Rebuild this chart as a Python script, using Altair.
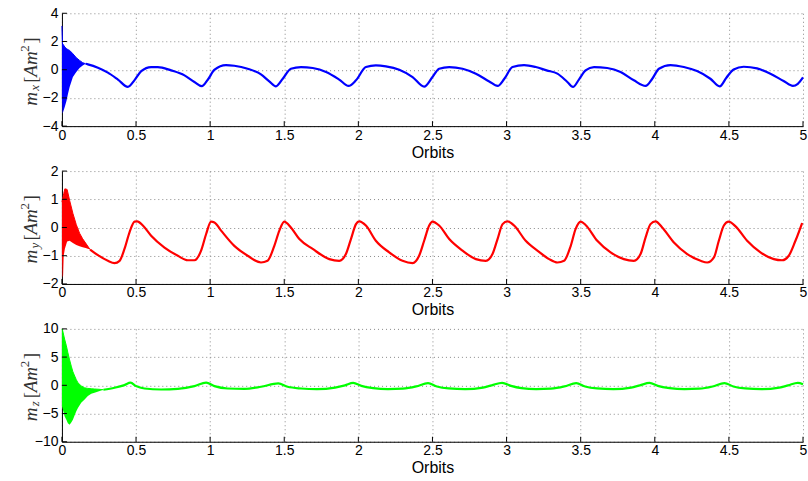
import altair as alt
import pandas as pd

orbit_ticks = [0, 0.5, 1, 1.5, 2, 2.5, 3, 3.5, 4, 4.5, 5]

# ---- m_x (blue) ----
mx_env_t = [0.0, 0.004, 0.008, 0.02, 0.031, 0.041, 0.052, 0.074, 0.097, 0.119, 0.14, 0.16]
mx_env_hi = [3.1, 1.85, 1.8, 1.6, 1.5, 1.42, 1.37, 1.13, 0.85, 0.66, 0.5, 0.42]
mx_env_lo = [-2.0, -3.1, -3.0, -2.6, -2.2, -1.7, -1.22, -0.52, -0.17, 0.12, 0.3, 0.42]
mx_t = [0.16, 0.175, 0.243, 0.31, 0.378, 0.445, 0.49, 0.535, 0.602, 0.647, 0.737, 0.827,
        0.894, 0.944, 0.984, 1.03, 1.107, 1.163, 1.253, 1.343, 1.399, 1.444, 1.49, 1.545,
        1.613, 1.692, 1.782, 1.871, 1.934, 1.984, 2.051, 2.118, 2.186, 2.276, 2.366, 2.444,
        2.5, 2.545, 2.613, 2.703, 2.793, 2.883, 2.94, 2.985, 3.04, 3.118, 3.197, 3.27,
        3.343, 3.41, 3.448, 3.488, 3.533, 3.59, 3.679, 3.769, 3.859, 3.938, 3.983, 4.028,
        4.106, 4.196, 4.285, 4.375, 4.438, 4.483, 4.532, 4.6, 4.69, 4.78, 4.869, 4.932,
        4.965, 5.0]
mx_v = [0.42, 0.38, 0.14, -0.21, -0.70, -1.22, -0.74, -0.10, 0.19, 0.19, -0.05, -0.40,
        -0.87, -1.17, -0.71, 0.0, 0.33, 0.28, 0.07, -0.33, -0.83, -1.18, -0.64, 0.07,
        0.19, 0.12, -0.16, -0.70, -1.15, -0.75, 0.19, 0.31, 0.24, 0.0, -0.52, -1.20,
        -0.52, 0.07, 0.19, 0.07, -0.28, -0.83, -1.15, -0.64, 0.19, 0.33, 0.19, -0.05,
        -0.28, -0.87, -1.22, -0.70, -0.05, 0.19, 0.12, -0.16, -0.75, -1.15, -0.64, 0.07,
        0.33, 0.19, -0.10, -0.64, -1.18, -0.57, 0.02, 0.21, 0.09, -0.28, -0.80, -1.15,
        -1.0, -0.55]

# ---- m_y (red) ----
my_env_t = [0.0, 0.004, 0.008, 0.012, 0.02, 0.035, 0.052, 0.074, 0.097, 0.119, 0.14, 0.16, 0.19]
my_env_hi = [0.9, 1.0, 1.1, 1.2, 1.37, 1.35, 0.96, 0.5, 0.1, -0.2, -0.4, -0.55, -0.78]
my_env_lo = [-1.0, -1.77, -1.7, -1.0, -0.75, -0.5, -0.47, -0.55, -0.62, -0.66, -0.7, -0.73, -0.78]
my_t = [0.19, 0.243, 0.31, 0.355, 0.389, 0.422, 0.456, 0.49, 0.508, 0.546, 0.602, 0.692,
        0.782, 0.849, 0.894, 0.939, 0.973, 1.006, 1.029, 1.074, 1.163, 1.253, 1.343, 1.387,
        1.433, 1.467, 1.5, 1.545, 1.602, 1.692, 1.804, 1.871, 1.916, 1.95, 1.984, 2.006,
        2.051, 2.118, 2.208, 2.298, 2.366, 2.41, 2.444, 2.478, 2.5, 2.545, 2.613, 2.703,
        2.793, 2.86, 2.905, 2.939, 2.973, 3.006, 3.051, 3.129, 3.219, 3.287, 3.343, 3.388,
        3.433, 3.466, 3.5, 3.533, 3.612, 3.702, 3.791, 3.859, 3.904, 3.938, 3.971, 4.005,
        4.05, 4.129, 4.219, 4.309, 4.354, 4.399, 4.432, 4.466, 4.499, 4.545, 4.623, 4.713,
        4.803, 4.859, 4.904, 4.949, 4.994]
my_v = [-0.78, -0.98, -1.18, -1.26, -1.18, -0.76, -0.17, 0.21, 0.22, 0.07, -0.29, -0.71,
        -1.0, -1.16, -1.16, -0.82, -0.23, 0.21, 0.18, -0.11, -0.65, -1.0, -1.24, -1.18,
        -0.65, -0.11, 0.21, 0.0, -0.41, -0.76, -1.12, -1.18, -0.94, -0.41, 0.12, 0.22,
        0.07, -0.47, -0.88, -1.18, -1.26, -1.0, -0.47, 0.07, 0.21, 0.07, -0.41, -0.82,
        -1.12, -1.18, -0.94, -0.41, 0.12, 0.22, 0.07, -0.47, -0.86, -1.12, -1.24, -1.18,
        -0.65, -0.05, 0.21, 0.09, -0.47, -0.88, -1.12, -1.18, -0.94, -0.35, 0.12, 0.22,
        0.0, -0.53, -0.94, -1.18, -1.24, -1.06, -0.47, 0.07, 0.21, 0.04, -0.47, -0.88,
        -1.12, -1.16, -1.0, -0.47, 0.16]

# ---- m_z (green) ----
mz_env_t = [0.0, 0.004, 0.018, 0.03, 0.04, 0.052, 0.063, 0.074, 0.086, 0.097, 0.108, 0.13,
            0.153, 0.175, 0.198, 0.22, 0.25, 0.28]
mz_env_hi = [10.0, 9.8, 8.2, 7.0, 5.8, 4.5, 3.4, 2.4, 1.65, 1.0, 0.45, -0.1,
             -0.44, -0.55, -0.6, -0.65, -0.7, -0.78]
mz_env_lo = [-3.7, -4.0, -5.5, -6.1, -6.7, -7.0, -6.6, -6.1, -5.3, -4.6, -4.0, -3.1,
             -2.5, -1.9, -1.5, -1.3, -1.05, -0.8]
mz_t = [0.28, 0.355, 0.422, 0.463, 0.5, 0.557, 0.669, 0.782, 0.894, 0.973, 1.029, 1.118,
        1.231, 1.343, 1.46, 1.523, 1.613, 1.72, 1.843, 1.91, 1.965, 2.02, 2.1, 2.2, 2.3,
        2.39, 2.47, 2.53, 2.61, 2.72, 2.84, 2.9, 2.97, 3.03, 3.1, 3.2, 3.3, 3.39, 3.47,
        3.53, 3.61, 3.72, 3.84, 3.9, 3.965, 4.02, 4.1, 4.2, 4.3, 4.39, 4.47, 4.53, 4.61,
        4.72, 4.84, 4.9, 4.965, 5.0]
mz_v = [-0.78, -0.44, 0.04, 0.46, -0.14, -0.56, -0.74, -0.62, -0.14, 0.46, -0.14, -0.56,
        -0.62, -0.26, 0.34, -0.26, -0.56, -0.68, -0.40, 0.0, 0.42, -0.10, -0.50, -0.68, -0.60,
        -0.20, 0.38, -0.20, -0.55, -0.68, -0.40, 0.0, 0.45, -0.10, -0.50, -0.68, -0.60,
        -0.20, 0.38, -0.20, -0.55, -0.68, -0.40, 0.0, 0.42, -0.10, -0.50, -0.68, -0.60,
        -0.20, 0.40, -0.20, -0.55, -0.68, -0.40, 0.0, 0.45, 0.2]

W, H = 742, 113
one = pd.DataFrame({"a": [0]})


def ylabel(sub):
    # LaTeX-like "m_sub [Am^2]" written bottom-to-top
    start = H / 2 + 36
    pieces = [
        ("m", 0, -25, 19, "italic"),
        (sub, 15, -22.5, 13, "italic"),
        ("[", 23, -25, 19, "normal"),
        ("Am", 29, -25, 19, "italic"),
        ("2", 54, -33, 13, "normal"),
        ("]", 62, -25, 19, "normal"),
    ]
    layers = []
    for txt, off, xb, size, style in pieces:
        layers.append(
            alt.Chart(one).mark_text(
                text=txt, angle=270, align="left", baseline="alphabetic",
                font="Liberation Serif", fontStyle=style, fontSize=size, color="#333333"
            ).encode(x=alt.value(xb), y=alt.value(start - off))
        )
    return layers


def panel(env_t, env_hi, env_lo, t, v, color, domain, yticks, sub):
    env = pd.DataFrame({"t": env_t, "hi": env_hi, "lo": env_lo})
    line = pd.DataFrame({"t": t, "v": v})
    xs = alt.Scale(domain=[0, 5], nice=False, zero=False)
    ys = alt.Scale(domain=domain, nice=False, zero=False)
    xax = alt.Axis(values=orbit_ticks, format="~g", title="Orbits", grid=True,
                   labelPadding=2, titlePadding=2, labelFlush=False)
    yax = alt.Axis(values=yticks, title=None, grid=True, labelPadding=4)
    area = alt.Chart(env).mark_area(color=color, opacity=1, line={"color": color, "strokeWidth": 1}).encode(
        x=alt.X("t:Q", scale=xs, axis=xax),
        y=alt.Y("hi:Q", scale=ys, axis=yax),
        y2="lo:Q",
    )
    ln = alt.Chart(line).mark_line(color=color, strokeWidth=2.2, interpolate="monotone").encode(
        x=alt.X("t:Q", scale=xs, axis=xax),
        y=alt.Y("v:Q", scale=ys, axis=yax),
    )
    xt = alt.Chart(pd.DataFrame({"t": orbit_ticks})).mark_rule(color="black", strokeWidth=1).encode(
        x=alt.X("t:Q", scale=xs, axis=xax), y=alt.value(H), y2=alt.value(H - 5)
    )
    yt = alt.Chart(pd.DataFrame({"v": yticks})).mark_rule(color="black", strokeWidth=1).encode(
        y=alt.Y("v:Q", scale=ys, axis=yax), x=alt.value(0), x2=alt.value(5)
    )
    return alt.layer(area, ln, xt, yt, *ylabel(sub)).properties(width=W, height=H)


p1 = panel(mx_env_t, mx_env_hi, mx_env_lo, mx_t, mx_v, "#0000ff", [-4, 4], [-4, -2, 0, 2, 4], "x")
p2 = panel(my_env_t, my_env_hi, my_env_lo, my_t, my_v, "#ff0000", [-2, 2], [-2, -1, 0, 1, 2], "y")
p3 = panel(mz_env_t, mz_env_hi, mz_env_lo, mz_t, mz_v, "#00ff00", [-10, 10], [-10, -5, 0, 5, 10], "z")

chart = alt.vconcat(p1, p2, p3, spacing=45, bounds="flush").properties(
    padding={"left": 19, "top": 6, "right": 0, "bottom": 0},
    background="white",
).configure_axis(
    domainColor="black", domainWidth=1, ticks=False,
    gridColor="#8a8a8a", gridDash=[1, 3], gridWidth=1, gridOpacity=1,
    labelFont="Liberation Sans", labelFontSize=14, labelColor="black",
    titleFont="Liberation Sans", titleFontSize=16, titleFontWeight="normal", titleColor="black",
).configure_view(stroke=None)

chart.save("out.html", embed_options={"renderer": "svg", "actions": False})
